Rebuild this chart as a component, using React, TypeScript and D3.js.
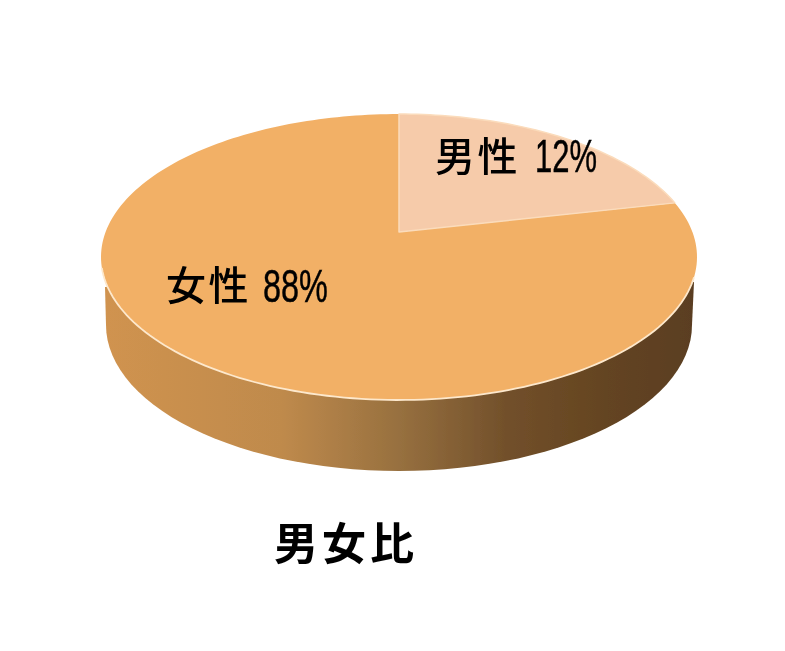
import * as d3 from "d3";

const categories = ["男性", "女性"];
const percentLabels = ["12%", "88%"];
// share of the circle as actually drawn in the picture (not the printed percentages)
const drawnShares = [21.5, 78.5];
const sliceColors = ["#f6cbaa", "#f2b066"];
const wallStops: [number, string][] = [
  [0, "#d0934f"],
  [0.3, "#bf8a4c"],
  [0.5, "#97703f"],
  [0.68, "#72502b"],
  [0.85, "#644420"],
  [1, "#5a3e20"],
];
const title = "男女比";

const W = 785;
const H = 651;
const cx = 399;
const apexY = 232;
// tilted disc: perspective projection of the unit circle, so the apex sits above the ellipse centre
const k = 0.175;
const a = 293.4;
const b = 138.6;

function project(t: number): [number, number] {
  const w = 1 + k * Math.cos(t);
  return [cx + (a * Math.sin(t)) / w, apexY - (b * Math.cos(t)) / w];
}

const line = d3.line();

function arcPoints(start: number, end: number) {
  const n = Math.max(2, Math.ceil((end - start) * 40));
  return d3.range(n + 1).map((i) => project(start + ((end - start) * i) / n));
}

function slicePath(start: number, end: number) {
  return line([[cx, apexY], ...arcPoints(start, end)])! + "Z";
}

// side wall: lower half of the bottom ellipse, joined up to the top face
const baseY = 325;
const baseRx = 293;
const baseRy = 146;
function wallPath() {
  const pts = d3.range(0, 61).map((i): [number, number] => {
    const u = (Math.PI * i) / 60;
    return [cx + baseRx * Math.cos(u), baseY + baseRy * Math.sin(u)];
  });
  return line([[694, 282], ...pts, [105, 287]])! + "Z";
}

const arcs = d3
  .pie<number>()
  .sort(null)
  .startAngle(0)
  .endAngle(2 * Math.PI)(drawnShares);

const kanjiPos: [number, number][] = [
  [435, 171],
  [166, 300],
];
const percentPos: [number, number, number][] = [
  [535, 172, 62],
  [263, 302, 65],
];

export default function App() {
  return (
    <svg
      width={W}
      height={H}
      viewBox={`0 0 ${W} ${H}`}
      style={{ position: "absolute", left: 0, top: 0, background: "#fff" }}
    >
      <defs>
        <linearGradient id="wall" x1="0" x2="1" y1="0" y2="0">
          {wallStops.map(([o, c]) => (
            <stop key={o} offset={o} stopColor={c} />
          ))}
        </linearGradient>
        <filter id="soft" x="-5%" y="-5%" width="110%" height="110%">
          <feGaussianBlur stdDeviation="0.7" />
        </filter>
        <filter id="softText" x="-5%" y="-20%" width="110%" height="140%">
          <feGaussianBlur stdDeviation="0.4" />
        </filter>
      </defs>

      <g filter="url(#soft)">
        <path d={wallPath()} fill="url(#wall)" />
        {/* female first so the lighter male wedge edge stays on top */}
        <path d={slicePath(arcs[1].startAngle, arcs[1].endAngle)} fill={sliceColors[1]} />
        <path
          d={slicePath(arcs[0].startAngle, arcs[0].endAngle)}
          fill={sliceColors[0]}
          stroke="#fbdcbc"
          strokeWidth={1.5}
          strokeLinejoin="round"
        />
        {/* bright rim only along the front edge */}
        <path
          d={line(arcPoints(Math.PI * 0.6, Math.PI * 1.42))!}
          fill="none"
          stroke="#fde8cc"
          strokeWidth={1.8}
        />
      </g>

      <g filter="url(#softText)" fill="#000">
        {categories.map((c, i) => (
          <text
            key={c}
            x={kanjiPos[i][0]}
            y={kanjiPos[i][1]}
            fontFamily="'Noto Sans CJK JP'"
            fontSize={40}
            fontWeight={500}
            letterSpacing={2.5}
          >
            {c}
          </text>
        ))}
        {percentLabels.map((p, i) => (
          <text
            key={p}
            x={percentPos[i][0]}
            y={percentPos[i][1]}
            fontFamily="'Liberation Sans'"
            fontSize={47}
            textLength={percentPos[i][2]}
            lengthAdjust="spacingAndGlyphs"
            stroke="#000"
            strokeWidth={0.5}
          >
            {p}
          </text>
        ))}
        <text
          x={346}
          y={560}
          textAnchor="middle"
          fontFamily="'Noto Sans CJK JP'"
          fontSize={44}
          fontWeight={700}
          letterSpacing={4}
        >
          {title}
        </text>
      </g>
    </svg>
  );
}
